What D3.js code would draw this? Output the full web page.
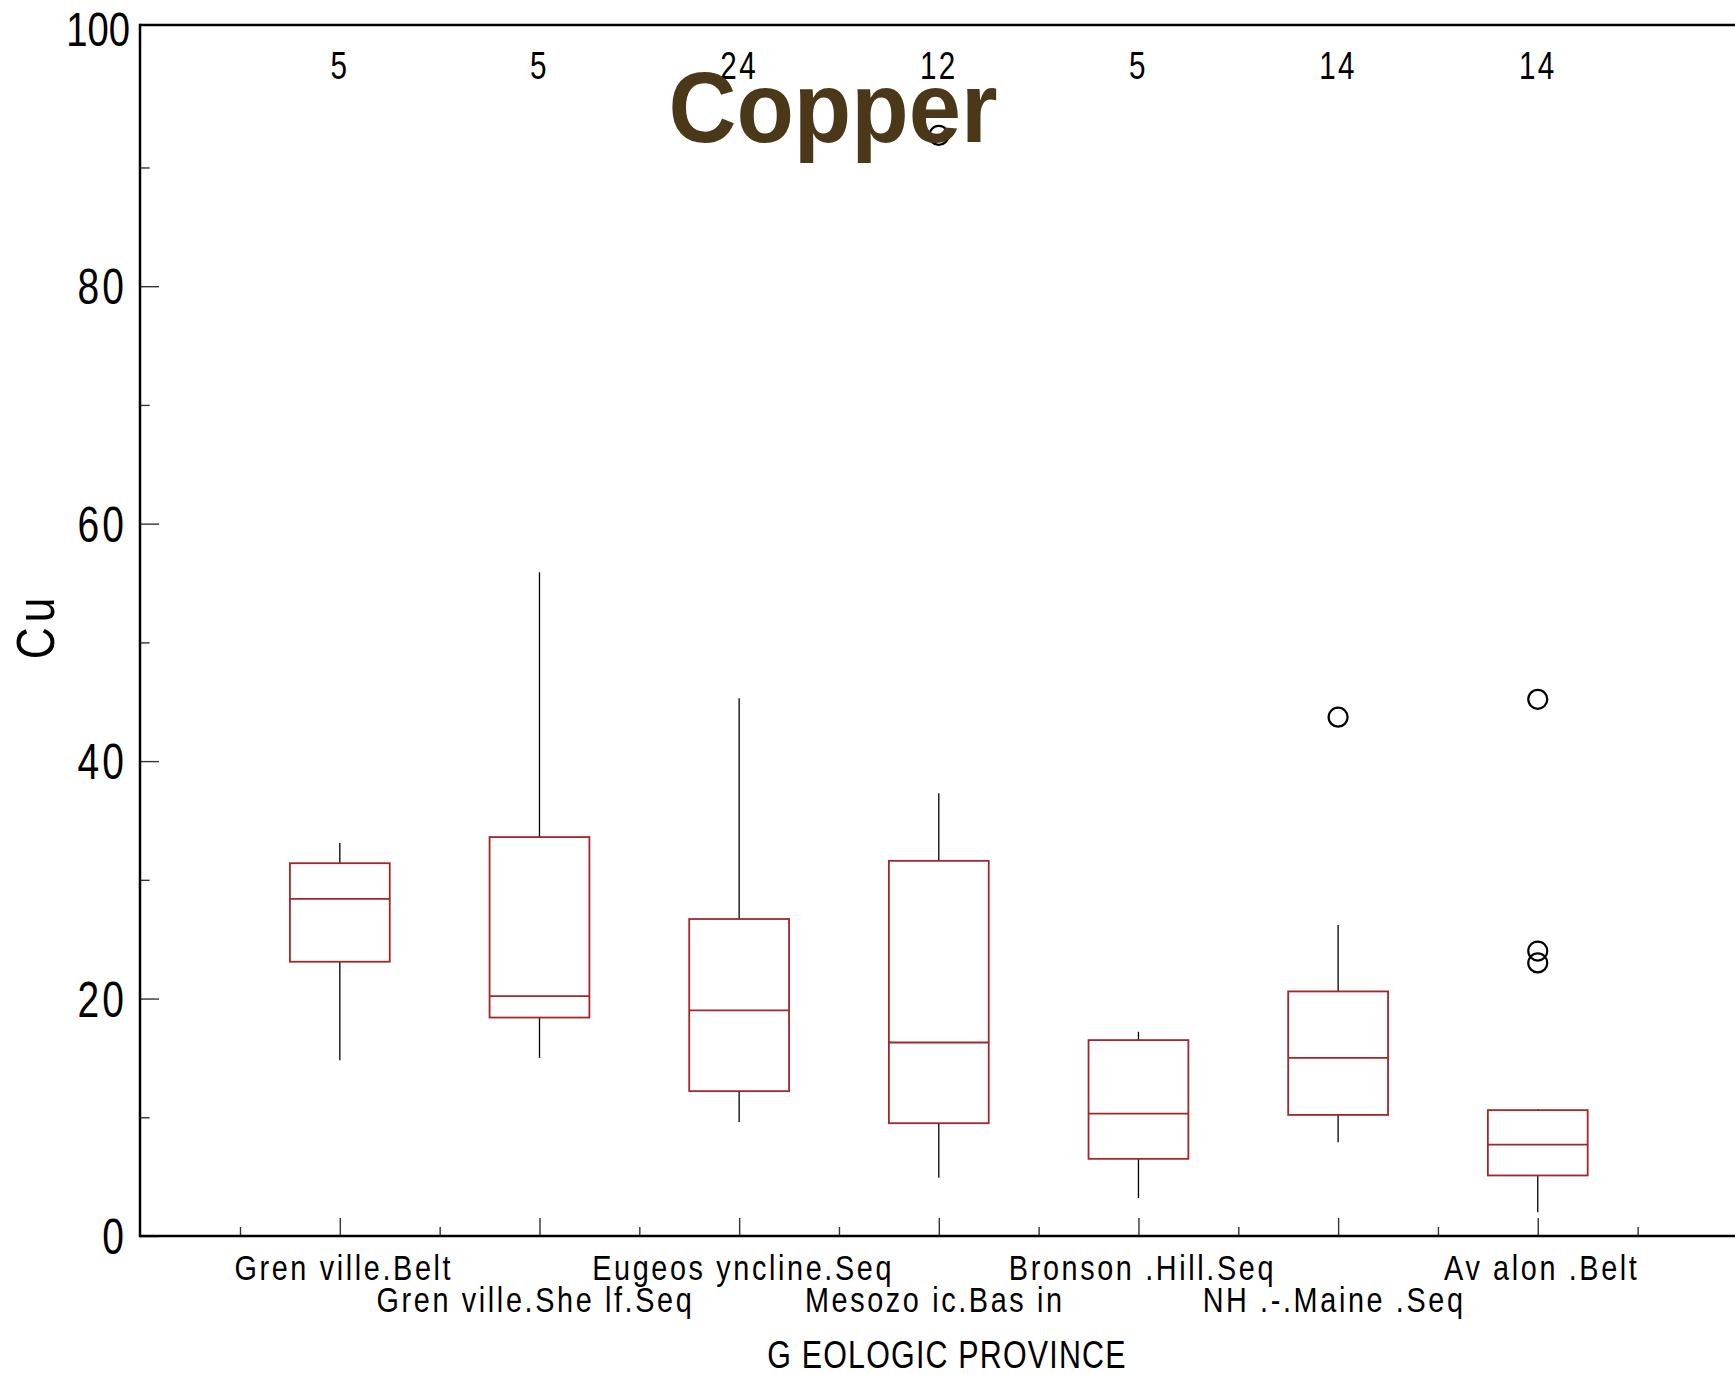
<!DOCTYPE html>
<html>
<head>
<meta charset="utf-8">
<script src="https://cdn.jsdelivr.net/npm/d3@7"></script>
<style>
  html, body { margin: 0; padding: 0; background: #fff; }
  svg { display: block; }
  text { font-family: "Liberation Sans", Arial, sans-serif; fill: #000; }
</style>
</head>
<body>
<svg id="chart" width="1735" height="1375"></svg>
<script>
// Copper concentrations by geologic province (box-plot summaries)
const categories = [
  "Gren ville.Belt", "Gren ville.She lf.Seq", "Eugeos yncline.Seq",
  "Mesozo ic.Bas in", "Bronson .Hill.Seq", "NH .-.Maine .Seq", "Av alon .Belt"
];
const counts      = [5, 5, 24, 12, 5, 14, 14];
const whiskerLow  = [14.8, 15.0, 9.6, 4.9, 3.2, 7.9, 2.0];
const q1          = [23.1, 18.4, 12.2, 9.5, 6.5, 10.2, 5.1];
const median      = [28.4, 20.2, 19.0, 16.3, 10.3, 15.0, 7.7];
const q3          = [31.4, 33.6, 26.7, 31.6, 16.5, 20.6, 10.6];
const whiskerHigh = [33.1, 55.9, 45.3, 37.3, 17.2, 26.2, 10.7];
const outliers    = [[], [], [], [92.7], [], [43.7], [45.2, 24.0, 23.0]];

const yMajorTicks = [0, 20, 40, 60, 80];
const yMinorTicks = [10, 30, 50, 70, 90];
const yTickLabels = ["0", "20", "40", "60", "80", "100"];

const title = "Copper";
const yTitle = "Cu";
const xTitle = "G EOLOGIC PROVINCE";

const svg = d3.select("#chart");
const frame = { left: 140, top: 25, bottom: 1236, right: 1737 };

const x = d3.scaleBand()
  .domain(categories)
  .range([240, 1637.6])
  .paddingInner(0).paddingOuter(0);
const y = d3.scaleLinear().domain([0, 102]).range([frame.bottom, frame.top]);

const boxColor = "#a3262a";
const narrow = 0.8;

// condensed text helper
function ctext(g, str, px, py, opts) {
  const o = Object.assign({ size: 36, anchor: "middle", sx: narrow, ls: 0 }, opts || {});
  return g.append("text")
    .attr("transform", `translate(${px},${py}) scale(${o.sx},1)`)
    .attr("text-anchor", o.anchor)
    .style("font-size", o.size + "px")
    .style("letter-spacing", o.ls + "px")
    .style("font-weight", o.weight || "normal")
    .style("fill", o.fill || "#000")
    .text(str);
}

// y axis ticks (inward)
const yAxisMajor = d3.axisLeft(y).tickValues(yMajorTicks).tickSize(-19).tickFormat("");
const yAxisMinor = d3.axisLeft(y).tickValues(yMinorTicks).tickSize(-9.6).tickFormat("");
[yAxisMajor, yAxisMinor].forEach(ax => {
  const g = svg.append("g").attr("transform", `translate(${frame.left},0)`).call(ax);
  g.select(".domain").remove();
  g.selectAll(".tick line").attr("stroke", "#333").attr("stroke-width", 1.4);
});

// y tick labels
const labG = svg.append("g");
yMajorTicks.forEach((v, i) => {
  ctext(labG, yTickLabels[i], 127, y(v) + 18, { size: 50, anchor: "end", sx: 0.78, ls: 4 });
});
// top label sits at the top of the frame
ctext(labG, yTickLabels[yTickLabels.length - 1], 130, frame.top + 21, { size: 49, anchor: "end", sx: 0.78, ls: 0 });

// x axis ticks (inward)
const xCenters = categories.map(c => x(c) + x.bandwidth() / 2);
const xEdges = categories.map(c => x(c)).concat([x(categories[categories.length - 1]) + x.bandwidth()]);
const xLin = d3.scaleIdentity();
const xAxisMajor = d3.axisBottom(xLin).tickValues(xCenters).tickSize(-18).tickFormat("");
const xAxisMinor = d3.axisBottom(xLin).tickValues(xEdges).tickSize(-9).tickFormat("");
[xAxisMajor, xAxisMinor].forEach(ax => {
  const g = svg.append("g").attr("transform", `translate(0,${frame.bottom})`).call(ax);
  g.select(".domain").remove();
  g.selectAll(".tick line").attr("stroke", "#333").attr("stroke-width", 1.4);
});

// frame lines
svg.append("line").attr("x1", frame.left).attr("x2", frame.left)
  .attr("y1", frame.top - 1.25).attr("y2", frame.bottom + 1.25)
  .attr("stroke", "#000").attr("stroke-width", 2.5);
svg.append("line").attr("x1", frame.left).attr("x2", frame.right)
  .attr("y1", frame.top).attr("y2", frame.top)
  .attr("stroke", "#000").attr("stroke-width", 2.7);
svg.append("line").attr("x1", frame.left).attr("x2", frame.right)
  .attr("y1", frame.bottom).attr("y2", frame.bottom)
  .attr("stroke", "#000").attr("stroke-width", 2.7);

// boxes
const boxW = x.bandwidth() * 0.5;
const boxes = svg.append("g");
categories.forEach((c, i) => {
  const cx = xCenters[i];
  const g = boxes.append("g");
  g.append("line").attr("x1", cx).attr("x2", cx)
    .attr("y1", y(q3[i])).attr("y2", y(whiskerHigh[i]))
    .attr("stroke", "#000").attr("stroke-width", 1.3);
  g.append("line").attr("x1", cx).attr("x2", cx)
    .attr("y1", y(q1[i])).attr("y2", y(whiskerLow[i]))
    .attr("stroke", "#000").attr("stroke-width", 1.3);
  g.append("rect")
    .attr("x", cx - boxW / 2).attr("width", boxW)
    .attr("y", y(q3[i])).attr("height", y(q1[i]) - y(q3[i]))
    .attr("fill", "none").attr("stroke", boxColor).attr("stroke-width", 1.8);
  g.append("line").attr("x1", cx - boxW / 2).attr("x2", cx + boxW / 2)
    .attr("y1", y(median[i])).attr("y2", y(median[i]))
    .attr("stroke", boxColor).attr("stroke-width", 1.8);
  outliers[i].forEach(v => {
    g.append("circle").attr("cx", cx).attr("cy", y(v)).attr("r", 9.5)
      .attr("fill", "none").attr("stroke", "#000").attr("stroke-width", 2.2);
  });
});

// counts along the top
const cntG = svg.append("g");
counts.forEach((n, i) => {
  ctext(cntG, String(n), xCenters[i], 79, { size: 38, sx: 0.78, ls: 3 });
});

// category labels, staggered in two rows
const catG = svg.append("g");
categories.forEach((c, i) => {
  ctext(catG, c, xCenters[i] + (i % 2 === 0 ? 4 : -4), i % 2 === 0 ? 1280 : 1312,
    { size: 36, sx: 0.8, ls: 3.3 });
});

// axis titles
ctext(svg, xTitle, 947, 1368, { size: 38, sx: 0.8, ls: 1.5 });
svg.append("text")
  .attr("transform", `translate(54,626) rotate(-90) scale(0.82,1)`)
  .attr("text-anchor", "middle")
  .style("font-size", "54px")
  .style("letter-spacing", "6px")
  .text(yTitle);

// title
ctext(svg, title, 833, 142, { size: 100, sx: 0.94, weight: "bold", fill: "#4a3819" });
</script>
</body>
</html>
